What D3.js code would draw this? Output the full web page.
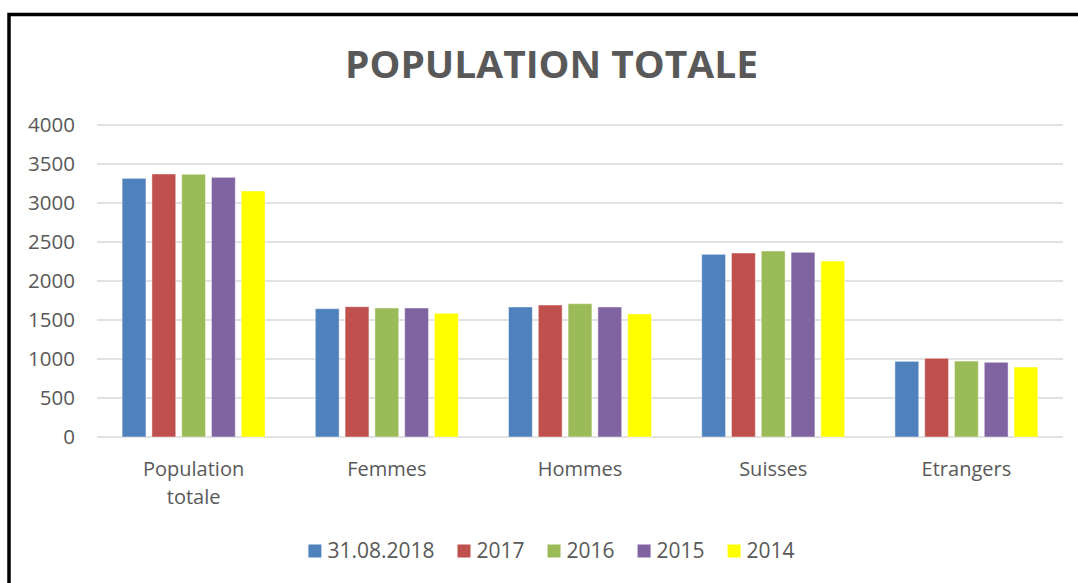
<!DOCTYPE html>
<html>
<head>
<meta charset="utf-8">
<script src="https://cdn.jsdelivr.net/npm/d3@7"></script>
<style>
  html, body { margin: 0; padding: 0; background: #fff; }
  svg { display: block; font-family: "Open Sans", sans-serif; }
</style>
</head>
<body>
<div id="chart"></div>
<script>
// data
const categories = ["Population totale", "Femmes", "Hommes", "Suisses", "Etrangers"];
const seriesNames = ["31.08.2018", "2017", "2016", "2015", "2014"];
const values2018 = [3316, 1645, 1667, 2342, 970];
const values2017 = [3372, 1670, 1692, 2359, 1009];
const values2016 = [3368, 1654, 1709, 2385, 974];
const values2015 = [3329, 1654, 1667, 2368, 958];
const values2014 = [3154, 1586, 1577, 2256, 897];
const yTicks = [0, 500, 1000, 1500, 2000, 2500, 3000, 3500, 4000];
const colors = ["#4F81BD", "#C0504D", "#9BBB59", "#8064A2", "#FFFF00"];

const allValues = [values2018, values2017, values2016, values2015, values2014];

const W = 1078, H = 583;
const textColor = "#595959";

const svg = d3.select("#chart")
  .append("svg")
  .attr("width", W)
  .attr("height", H);

// chart frame (runs past right and bottom edges)
svg.append("rect")
  .attr("x", 9)
  .attr("y", 14.5)
  .attr("width", 1100)
  .attr("height", 600)
  .attr("fill", "#fff")
  .attr("stroke", "#000")
  .attr("stroke-width", 3.5);

// title
svg.append("text")
  .attr("x", 551.5)
  .attr("y", 78)
  .attr("text-anchor", "middle")
  .attr("font-size", 38)
  .attr("font-weight", "bold")
  .attr("fill", textColor)
  .attr("textLength", 413)
  .attr("lengthAdjust", "spacingAndGlyphs")
  .text("POPULATION TOTALE");

const plot = { left: 97, right: 1063, top: 125, bottom: 437 };

const x0 = d3.scaleBand()
  .domain(categories)
  .range([plot.left, plot.right])
  .paddingInner(0.26)
  .paddingOuter(0.13);

const x1 = d3.scaleBand()
  .domain(seriesNames)
  .range([0, x0.bandwidth()])
  .paddingInner(0.2)
  .paddingOuter(0);

const y = d3.scaleLinear()
  .domain([0, 4000])
  .range([plot.bottom, plot.top]);

// gridlines
svg.append("g")
  .selectAll("line")
  .data(yTicks)
  .enter()
  .append("line")
  .attr("x1", plot.left)
  .attr("x2", plot.right)
  .attr("y1", d => y(d))
  .attr("y2", d => y(d))
  .attr("stroke", "#D9D9D9")
  .attr("stroke-width", 1.5);

// y axis labels
const yAxis = svg.append("g")
  .attr("transform", "translate(" + (plot.left - 10) + ",0)")
  .call(d3.axisLeft(y).tickValues(yTicks).tickSize(0).tickPadding(12).tickFormat(d3.format("d")));
yAxis.select(".domain").remove();
yAxis.selectAll("text")
  .attr("font-family", "'Open Sans', sans-serif")
  .attr("font-size", 20.5)
  .attr("fill", textColor);

// bars
const groups = svg.append("g")
  .selectAll("g")
  .data(categories)
  .enter()
  .append("g")
  .attr("transform", d => "translate(" + x0(d) + ",0)");

groups.selectAll("rect")
  .data((c, ci) => seriesNames.map((s, si) => ({ s: s, v: allValues[si][ci], i: si })))
  .enter()
  .append("rect")
  .attr("x", d => x1(d.s))
  .attr("y", d => y(d.v))
  .attr("width", x1.bandwidth())
  .attr("height", d => y(0) - y(d.v))
  .attr("fill", d => colors[d.i])
  .attr("stroke", "#fff")
  .attr("stroke-opacity", 0.45)
  .attr("stroke-width", 1);

// category labels
const xAxis = svg.append("g")
  .attr("transform", "translate(0," + plot.bottom + ")")
  .call(d3.axisBottom(x0).tickSize(0).tickPadding(0));
xAxis.select(".domain").remove();
xAxis.selectAll("text").remove();
xAxis.selectAll(".tick")
  .append("text")
  .attr("text-anchor", "middle")
  .attr("font-family", "'Open Sans', sans-serif")
  .attr("font-size", 20)
  .attr("fill", textColor)
  .each(function (d) {
    const lines = d === "Population totale" ? ["Population", "totale"] : [d];
    const t = d3.select(this);
    lines.forEach((ln, i) => {
      t.append("tspan").attr("x", 0).attr("y", 39 + i * 28).text(ln);
    });
  });

// legend
const legend = svg.append("g");
const items = legend.selectAll("g")
  .data(seriesNames)
  .enter()
  .append("g");
items.append("rect")
  .attr("width", 13)
  .attr("height", 13)
  .attr("y", -13)
  .attr("fill", (d, i) => colors[i]);
items.append("text")
  .attr("x", 19)
  .attr("font-size", 21)
  .attr("fill", textColor)
  .text(d => d);

let cx = 0;
items.each(function () {
  const g = d3.select(this);
  g.attr("transform", "translate(" + cx + ",0)");
  const w = 19 + g.select("text").node().getComputedTextLength();
  cx += w + 23;
});
const legendWidth = cx - 23;
legend.attr("transform", "translate(" + (551.5 - legendWidth / 2) + ",557.5)");
</script>
</body>
</html>
